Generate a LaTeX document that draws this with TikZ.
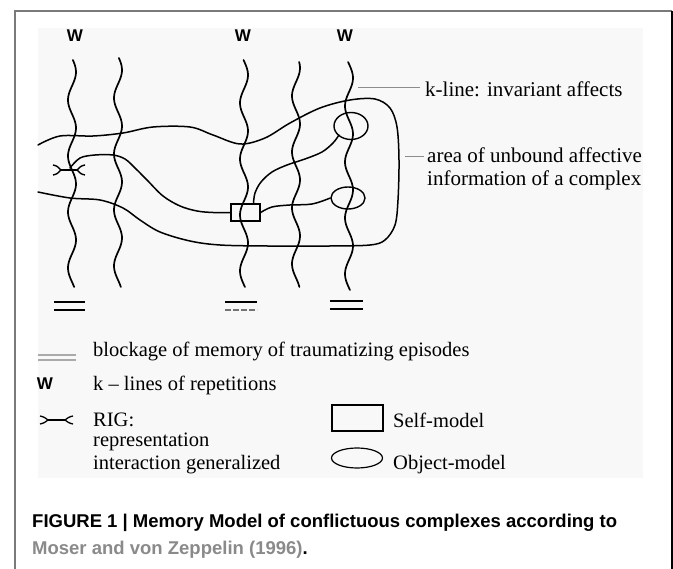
\documentclass[tikz,border=0pt]{standalone}
\usepackage{fontspec}
\setmainfont{Liberation Serif}
\newfontfamily\capfont{Liberation Sans}
\usetikzlibrary{shapes.geometric}
\definecolor{bgpanel}{HTML}{F8F8F8}
\definecolor{framegray}{HTML}{7A7A7A}
\definecolor{leadgray}{HTML}{8C8C8C}
\definecolor{citegray}{HTML}{8A8A8A}
\definecolor{blockgray}{HTML}{AAAAAA}
\tikzset{
  curve/.style={line width=1.5pt, black, line cap=round, line join=round},
  wave/.style={line width=1.7pt, black, line cap=round},
  blockline/.style={line width=1.6pt, black},
  leader/.style={line width=0.9pt, leadgray},
  wlabel/.style={font=\capfont\bfseries\fontsize{17}{17}\selectfont, inner sep=0},
  sidelabel/.style={font=\fontsize{21}{24}\selectfont, anchor=base west, inner sep=0},
  legtext/.style={font=\fontsize{20.5}{23}\selectfont, anchor=base west, inner sep=0},
  captext/.style={font=\capfont\bfseries\fontsize{18.5}{22}\selectfont, anchor=base west, inner sep=0},
  selfbox/.style={draw, line width=1.4pt, inner sep=0},
  objell/.style={draw, ellipse, line width=1.4pt, inner sep=0},
}
\newcommand\kwave[4]{\draw[wave] plot[domain=#2:#3, samples=100, variable=\t] ({#1+4*sin(6.43*(\t-#4)+90)},{\t});}
\begin{document}
\begin{tikzpicture}[x=1pt, y=-1pt]
\useasboundingbox (0,0) rectangle (673,569);
% frame and panel
\fill[white] (0,0) rectangle (673,569);
\fill[bgpanel] (38,28) rectangle (643,478);
\draw[framegray, line width=1.5pt] (15,569) -- (15,11) -- (672,11);
\draw[black, line width=2pt] (671.5,11) -- (671.5,569);

% W labels
\node[wlabel] (w1) at (75,36) {W};
\node[wlabel] (w2) at (243,36) {W};
\node[wlabel] (w3) at (345,36) {W};

% k-lines (wavy)
\kwave{72}{60}{287}{72}
\kwave{118}{58}{287}{70}
\kwave{244}{60}{287}{75}
\kwave{296}{62}{287}{68}
\kwave{349}{62}{290}{78}

% area of unbound affective information
\draw[curve] plot[smooth, tension=0.55] coordinates {
  (38,145) (60,136) (93,136) (123,133) (153,127) (190,127) (213,135)
  (240,144) (265,138) (290,123) (320,108) (350,100) (375,99) (390,108)
  (397,127) (399,160) (398,200) (395,225) (385,240) (370,245) (330,246)
  (267,246) (220,245) (190,241) (160,232) (140,220) (123,208) (100,200)
  (70,198) (38,192)};

% self-model and object-models
\node[selfbox, minimum width=29pt, minimum height=17pt] (self) at (245.5,212.5) {};
\node[objell, minimum width=34pt, minimum height=27pt] (objA) at (351,126) {};
\node[objell, minimum width=34pt, minimum height=22pt] (objB) at (348,198) {};

% RIG
\coordinate (rigL) at (61,170);
\coordinate (rigR) at (77,170);
\draw[line width=1.4pt] (rigL) -- (rigR);
\draw[line width=1.4pt] (53,165) .. controls (57,166) .. (rigL) .. controls (57,174) .. (53,175);
\draw[line width=1.4pt] (85,165) .. controls (81,166) .. (rigR) .. controls (81,174) .. (85,175);

% curve from RIG to self-model
\draw[curve] plot[smooth, tension=0.55] coordinates {
  (70,168) (80,158) (95,155) (113,155) (125,159) (135,168) (147,180)
  (163,196) (180,206) (197,211) (213,212.5) (self.west)};
% self-model to upper object-model
\draw[curve] plot[smooth, tension=0.55] coordinates {
  ([xshift=8pt]self.north) (255,193) (261,182) (272,172) (287,165) (305,159)
  (322,152) (333,143) (339,135)};
% self-model to lower object-model
\draw[curve] plot[smooth, tension=0.6] coordinates {
  (self.east) (272,207) (290,205) (312,204) (objB.west)};

% blockages
\draw[blockline] (54,302) -- (85,302) (54,310) -- (85,310);
\draw[blockline] (225,302) -- (257,302);
\draw[line width=1.3pt, black!55, dash pattern=on 6pt off 2pt] (225,310) -- (257,310);
\draw[blockline] (330,301) -- (363,301) (330,309) -- (363,309);

% side labels
\node[sidelabel] (klab) at (425,97) {k-line: invariant affects};
\coordinate (kl0) at (358,87);
\coordinate (kl1) at (420,87);
\draw[leader] (kl0) -- (kl1);
\node[sidelabel] (alab) at (427,163) {area of unbound affective};
\node[sidelabel] (alab2) at (427,186) {information of a complex};
\coordinate (al0) at (405,156);
\coordinate (al1) at (424,156);
\draw[leader] (al0) -- (al1);

% legend
\draw[blockgray, line width=1.2pt] (38,355) -- (76,355) (38,360) -- (76,360);
\node[legtext] (lg1) at (93,357) {blockage of memory of traumatizing episodes};
\node[wlabel] (lgw) at (45,384) {W};
\node[legtext] (lg2) at (93,391) {k – lines of repetitions};
\coordinate (lrL) at (48,420);
\coordinate (lrR) at (65,420);
\draw[line width=1.3pt] (lrL) -- (lrR);
\draw[line width=1.3pt] (40,416) .. controls (44,417) .. (lrL) .. controls (44,423) .. (40,424);
\draw[line width=1.3pt] (73,416) .. controls (69,417) .. (lrR) .. controls (69,423) .. (73,424);
\node[legtext] (lg3) at (93,427) {RIG:};
\node[legtext] (lg4) at (93,447) {representation};
\node[legtext] (lg5) at (93,470) {interaction generalized};
\node[selfbox, line width=1.2pt, minimum width=51pt, minimum height=26pt] (lgself) at (357.5,418) {};
\node[legtext] (lg6) at (393,428) {Self-model};
\node[objell, line width=1.2pt, minimum width=51pt, minimum height=20pt] (lgobj) at (357,458) {};
\node[legtext] (lg7) at (393,470) {Object-model};

% caption
\node[captext] (cap1) at (32,528) {FIGURE 1 | Memory Model of conflictuous complexes according to};
\node[captext] (cap2) at (32,555) {\textcolor{citegray}{Moser and von Zeppelin (1996)}.};
\end{tikzpicture}
\end{document}
